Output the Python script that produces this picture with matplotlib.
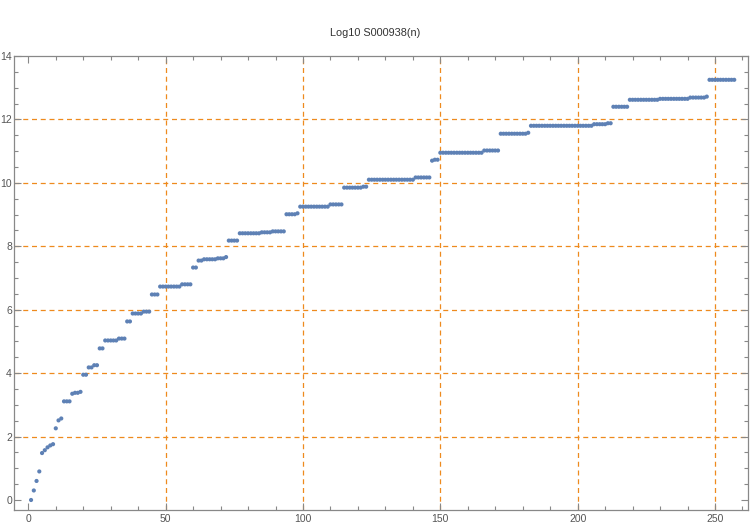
import numpy as np
import matplotlib
matplotlib.use("Agg")
import matplotlib.pyplot as plt
from matplotlib.ticker import MultipleLocator

plt.rcParams['font.family'] = ['Liberation Sans', 'DejaVu Sans']

levels = [0.00, 0.30, 0.60, 0.90, 1.48, 1.57, 1.66, 1.72, 1.76, 2.26, 2.51, 2.57,
          3.11, 3.35, 3.38, 3.41, 3.95, 4.18, 4.25, 4.78, 5.03, 5.09, 5.63, 5.88,
          5.94, 6.48, 6.73, 6.80, 7.33, 7.55, 7.59, 7.62, 7.66, 8.18, 8.41, 8.44,
          8.47, 9.01, 9.04, 9.25, 9.32, 9.85, 9.88, 10.10, 10.17, 10.70, 10.73,
          10.95, 11.02, 11.55, 11.58, 11.80, 11.85, 11.88, 12.40, 12.62, 12.65,
          12.69, 12.72, 13.25]
counts = [1, 1, 1, 1, 1, 1, 1, 1, 1, 1, 1, 1,
          3, 1, 2, 1, 2, 2, 2, 2, 5, 3, 2, 4,
          3, 3, 8, 4, 2, 2, 5, 3, 1, 4, 8, 4,
          5, 4, 1, 11, 5, 7, 2, 17, 6, 1, 2,
          16, 6, 10, 1, 23, 5, 2, 6, 11, 11,
          6, 1, 10]

vals = np.repeat(levels, counts)
n = np.arange(1, len(vals) + 1)

grid_x = [50, 100, 150, 200, 250]
grid_y = [2, 4, 6, 8, 10, 12]

fig = plt.figure(figsize=(7.5, 5.27), dpi=100)
ax = fig.add_axes([0.0187, 0.0323, 0.9786, 0.8614])

orange = '#EE8A1E'
for gx in grid_x:
    ax.axvline(gx, color=orange, lw=0.9, ls=(0, (4, 3)), zorder=1)
for gy in grid_y:
    ax.axhline(gy, color=orange, lw=0.9, ls=(0, (4, 3)), zorder=1)

ax.scatter(n, vals, s=9, color='#5E81B5', edgecolors='none', zorder=3)

ax.set_xlim(-5.2, 262)
ax.set_ylim(-0.315, 14)

ax.xaxis.set_major_locator(MultipleLocator(50))
ax.xaxis.set_minor_locator(MultipleLocator(10))
ax.yaxis.set_major_locator(MultipleLocator(2))
ax.yaxis.set_minor_locator(MultipleLocator(0.5))

frame = '#888888'
for sp in ax.spines.values():
    sp.set_color(frame)
    sp.set_linewidth(0.9)
ax.tick_params(which='both', direction='in', top=True, right=True,
               color=frame, width=0.8, labelcolor='#555555', labelsize=7.5)
ax.tick_params(which='major', length=5)
ax.tick_params(which='minor', length=3)
ax.tick_params(axis='y', pad=1.5)
ax.tick_params(axis='x', pad=3)

fig.text(0.5, 0.937, 'Log10 S000938(n)', ha='center', va='center',
         fontsize=7.8, color='#333333')

fig.savefig('out.png', dpi=100)
